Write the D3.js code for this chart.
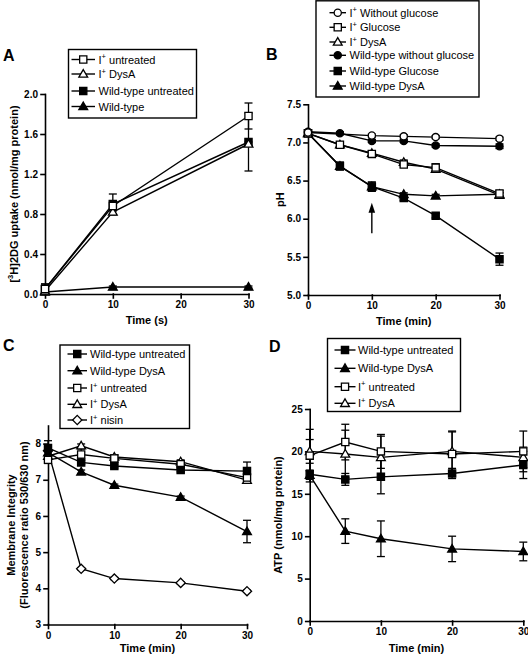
<!DOCTYPE html>
<html><head><meta charset="utf-8">
<script src="https://cdn.jsdelivr.net/npm/d3@7"></script>
<style>
body{margin:0;background:#fff;}
svg{display:block;font-family:"Liberation Sans",Arial,Helvetica,sans-serif;}
.axis .domain,.axis line{stroke:#000;stroke-width:1.6;stroke-linecap:square;}
.axis text{font-size:10px;font-weight:bold;fill:#000;font-family:"Liberation Sans",Arial,sans-serif;}
</style></head><body>
<svg id="chart" width="528" height="656"></svg>
<script>
// ---------------- Panel A data ----------------
const timeA = [0, 10, 30];
const aIpUntreated = [0.05, 0.88, 1.78];
const aIpUntreatedErr = [0.05, 0.05, 0.13];
const aIpDysA = [0.03, 0.82, 1.50];
const aIpDysAErr = [0.02, 0.03, 0.02];
const aWtUntreated = [0.05, 0.90, 1.52];
const aWtUntreatedErr = [0.05, 0.10, 0.29];
const aWt = [0.02, 0.07, 0.07];
const aWtErr = [0.01, 0.01, 0.01];
const ticksAx = [0, 10, 20, 30];
const ticksAy = [0.0, 0.4, 0.8, 1.2, 1.6, 2.0];

// ---------------- Panel B data ----------------
const timeB = [0, 10, 15, 20, 30];
const timeB6 = [0, 5, 10, 15, 20, 30];
const bIpNoGlucose = [7.13, 7.09, 7.08, 7.07, 7.05];
const bIpNoGlucoseErr = [0.02, 0.02, 0.02, 0.02, 0.02];
const bIpGlucose = [7.12, 6.97, 6.85, 6.71, 6.67, 6.33];
const bIpGlucoseErr = [0.02, 0.03, 0.03, 0.03, 0.05, 0.04];
const bIpDysA = [7.12, 6.97, 6.86, 6.74, 6.65, 6.31];
const bIpDysAErr = [0.02, 0.04, 0.03, 0.03, 0.03, 0.03];
const bWtNoGlucose = [7.14, 7.12, 7.02, 7.02, 6.96, 6.95];
const bWtNoGlucoseErr = [0.02, 0.02, 0.02, 0.02, 0.02, 0.03];
const bWtGlucose = [7.12, 6.69, 6.42, 6.27, 6.04, 5.47];
const bWtGlucoseErr = [0.02, 0.05, 0.06, 0.03, 0.03, 0.08];
const bWtDysA = [7.12, 6.69, 6.42, 6.32, 6.30, 6.32];
const bWtDysAErr = [0.02, 0.05, 0.06, 0.02, 0.02, 0.02];
const arrowB = [10, 5.81, 6.21]; // time, tail pH, tip pH
const ticksBx = [0, 10, 20, 30];
const ticksBy = [5.0, 5.5, 6.0, 6.5, 7.0, 7.5];

// ---------------- Panel C data ----------------
const timeC = [0, 5, 10, 20, 30];
const cWtUntreated = [7.88, 7.48, 7.38, 7.27, 7.24];
const cWtUntreatedErr = [0.2, 0.05, 0.05, 0.05, 0.25];
const cWtDysA = [7.75, 7.22, 6.85, 6.52, 5.57];
const cWtDysAErr = [0.1, 0.05, 0.03, 0.03, 0.31];
const cIpUntreated = [7.55, 7.70, 7.59, 7.43, 7.06];
const cIpUntreatedErr = [0.1, 0.15, 0.1, 0.05, 0.1];
const cIpDysA = [7.65, 7.94, 7.63, 7.50, 6.99];
const cIpDysAErr = [0.05, 0.05, 0.05, 0.05, 0.05];
const cIpNisin = [7.80, 4.54, 4.27, 4.15, 3.92];
const cIpNisinErr = [0.03, 0.03, 0.03, 0.03, 0.03];
const ticksCx = [0, 10, 20, 30];
const ticksCy = [3, 4, 5, 6, 7, 8];

// ---------------- Panel D data ----------------
const timeD = [0, 5, 10, 20, 30];
const dWtUntreated = [17.3, 16.7, 17.0, 17.4, 18.4];
const dWtUntreatedErr = [0.5, 0.7, 2.0, 0.6, 1.6];
const dWtDysA = [17.2, 10.6, 9.7, 8.5, 8.2];
const dWtDysAErr = [0.5, 1.45, 2.1, 1.5, 1.1];
const dIpUntreated = [19.5, 21.1, 20.0, 19.7, 20.0];
const dIpUntreatedErr = [3.1, 2.1, 2.0, 2.6, 2.4];
const dIpDysA = [20.0, 19.7, 19.3, 20.0, 19.3];
const dIpDysAErr = [1.4, 2.8, 2.5, 2.4, 1.2];
const ticksDx = [0, 10, 20, 30];
const ticksDy = [0, 5, 10, 15, 20, 25];

// ---------------- Build ----------------
const svg = d3.select('#chart');

const panels = [
  { letter:'A', lx:3, ly:60.5, xr:[45,248.5], yr:[294,94], yd:[0,2.0], xd:[0,30],
    xt:ticksAx, yt:ticksAy, yf:d3.format('.1f'),
    xTitle:'Time (s)', xTitleY:324, yTitle:[['[','3','H]2DG uptake (nmol/mg protein)']], yTitleX:[13.5],
    legend:{box:[68.5,49.5,196.5,118], rows:[59.5,74,91,106.5], s0:71.5, s1:95, tx:98.5},
    series:[
      {label:'I+ untreated', sym:'square', open:true, t:timeA, v:aIpUntreated, e:aIpUntreatedErr},
      {label:'I+ DysA', sym:'triangle', open:true, t:timeA, v:aIpDysA, e:aIpDysAErr},
      {label:'Wild-type untreated', sym:'square', open:false, t:timeA, v:aWtUntreated, e:aWtUntreatedErr},
      {label:'Wild-type', sym:'triangle', open:false, t:timeA, v:aWt, e:aWtErr}
    ]},
  { letter:'B', lx:266, ly:59.5, xr:[308,499.5], yr:[295,104.3], yd:[5.0,7.5], xd:[0,30],
    xt:ticksBx, yt:ticksBy, yf:d3.format('.1f'),
    xTitle:'Time (min)', xTitleY:324.5, yTitle:[['','','pH']], yTitleX:[280],
    legend:{box:[316,0.8,479,97], rows:[12.7,27.3,42,55.3,71,86], s0:329.5, s1:346, tx:349.5},
    series:[
      {label:'I+ Without glucose', sym:'circle', open:true, t:timeB, v:bIpNoGlucose, e:bIpNoGlucoseErr},
      {label:'I+ Glucose', sym:'square', open:true, t:timeB6, v:bIpGlucose, e:bIpGlucoseErr},
      {label:'I+ DysA', sym:'triangle', open:true, t:timeB6, v:bIpDysA, e:bIpDysAErr},
      {label:'Wild-type without glucose', sym:'circle', open:false, t:timeB6, v:bWtNoGlucose, e:bWtNoGlucoseErr},
      {label:'Wild-type Glucose', sym:'square', open:false, t:timeB6, v:bWtGlucose, e:bWtGlucoseErr},
      {label:'Wild-type DysA', sym:'triangle', open:false, t:timeB6, v:bWtDysA, e:bWtDysAErr}
    ]},
  { letter:'C', lx:3, ly:351, xr:[48,247], yr:[624.5,425.5], yd:[3,8.5], xd:[0,30],
    xt:ticksCx, yt:ticksCy, yf:d3.format('d'),
    xTitle:'Time (min)', xTitleY:652, yTitle:[['','','Membrane Integrity'],['','','(Fluorescence ratio 530/630 nm)']], yTitleX:[10.5,23.5],
    legend:{box:[60,345,189.5,428.5], rows:[354,370.7,388,404.3,420], s0:67.5, s1:87, tx:90},
    series:[
      {label:'Wild-type untreated', sym:'square', open:false, t:timeC, v:cWtUntreated, e:cWtUntreatedErr},
      {label:'Wild-type DysA', sym:'triangle', open:false, t:timeC, v:cWtDysA, e:cWtDysAErr},
      {label:'I+ untreated', sym:'square', open:true, t:timeC, v:cIpUntreated, e:cIpUntreatedErr},
      {label:'I+ DysA', sym:'triangle', open:true, t:timeC, v:cIpDysA, e:cIpDysAErr},
      {label:'I+ nisin', sym:'diamond', open:true, t:timeC, v:cIpNisin, e:cIpNisinErr}
    ]},
  { letter:'D', lx:269, ly:351.5, xr:[309.7,523.3], yr:[621,409], yd:[0,25], xd:[0,30],
    xt:ticksDx, yt:ticksDy, yf:d3.format('d'),
    xTitle:'Time (min)', xTitleY:652, yTitle:[['','','ATP (nmol/mg protein)']], yTitleX:[277.5],
    legend:{box:[327.5,338.5,460.5,411.5], rows:[350,368.3,386.7,403.3], s0:334.5, s1:355.5, tx:358},
    series:[
      {label:'Wild-type untreated', sym:'square', open:false, t:timeD, v:dWtUntreated, e:dWtUntreatedErr},
      {label:'Wild-type DysA', sym:'triangle', open:false, t:timeD, v:dWtDysA, e:dWtDysAErr},
      {label:'I+ untreated', sym:'square', open:true, t:timeD, v:dIpUntreated, e:dIpUntreatedErr},
      {label:'I+ DysA', sym:'triangle', open:true, t:timeD, v:dIpDysA, e:dIpDysAErr}
    ]}
];

function drawMarker(g, sym, open, cx, cy) {
  const fill = open ? '#fff' : '#000';
  let el;
  if (sym === 'circle') {
    el = g.append('circle').attr('cx', cx).attr('cy', cy).attr('r', 3.6);
  } else {
    let p;
    if (sym === 'square') p = 'M-3.6,-3.6h7.2v7.2h-7.2z';
    else if (sym === 'triangle') p = 'M0,-4.4L4.4,3.2L-4.4,3.2Z';
    else p = 'M0,-4.6L4.6,0L0,4.6L-4.6,0Z';
    el = g.append('path').attr('d', p).attr('transform', `translate(${cx},${cy})`);
  }
  el.attr('fill', fill).attr('stroke', '#000').attr('stroke-width', 1.3);
}

function labelText(g, x, y, label) {
  const t = g.append('text').attr('x', x).attr('y', y).attr('font-size', 11).attr('fill', '#000');
  if (label.startsWith('I+')) {
    t.append('tspan').text('I');
    t.append('tspan').attr('font-size', 7.5).attr('dy', -4.5).text('+');
    t.append('tspan').attr('dy', 4.5).text(label.slice(2));
  } else {
    t.text(label);
  }
}

panels.forEach(p => {
  const g = svg.append('g');
  const x = d3.scaleLinear().domain(p.xd).range(p.xr);
  const y = d3.scaleLinear().domain(p.yd).range(p.yr);

  // axes
  g.append('g').attr('class', 'axis').attr('transform', `translate(0,${p.yr[0]})`)
    .call(d3.axisBottom(x).tickValues(p.xt).tickFormat(d3.format('d')).tickSize(4).tickSizeOuter(0).tickPadding(3));
  g.append('g').attr('class', 'axis').attr('transform', `translate(${p.xr[0]},0)`)
    .call(d3.axisLeft(y).tickValues(p.yt).tickFormat(p.yf).tickSize(4).tickSizeOuter(0).tickPadding(3));

  // panel letter
  g.append('text').attr('x', p.lx).attr('y', p.ly).attr('font-size', 16).attr('font-weight', 'bold').text(p.letter);

  // x title
  g.append('text').attr('x', (p.xr[0] + p.xr[1]) / 2).attr('y', p.xTitleY).attr('text-anchor', 'middle')
    .attr('font-size', 11).attr('font-weight', 'bold').text(p.xTitle);

  // y title
  const cy = (p.yr[0] + p.yr[1]) / 2;
  p.yTitle.forEach((parts, i) => {
    const tx = p.yTitleX[i];
    const t = g.append('text').attr('transform', `translate(${tx},${cy}) rotate(-90)`)
      .attr('text-anchor', 'middle').attr('dominant-baseline', 'central')
      .attr('font-size', 11).attr('font-weight', 'bold');
    if (parts[1]) {
      t.append('tspan').text(parts[0]);
      t.append('tspan').attr('font-size', 7.5).attr('dy', -4).text(parts[1]);
      t.append('tspan').attr('dy', 4).text(parts[2]);
    } else {
      t.text(parts[2]);
    }
  });

  const line = d3.line().x(d => x(d[0])).y(d => y(d[1]));

  // lines
  p.series.forEach(s => {
    const pts = s.t.map((t, i) => [t, s.v[i]]);
    g.append('path').attr('d', line(pts)).attr('fill', 'none').attr('stroke', '#000').attr('stroke-width', 1.4);
  });
  // error bars
  p.series.forEach(s => {
    s.t.forEach((t, i) => {
      const cx = x(t), yt = y(s.v[i] + s.e[i]), yb = y(s.v[i] - s.e[i]);
      const eg = g.append('g').attr('stroke', '#000').attr('stroke-width', 1.3);
      eg.append('line').attr('x1', cx).attr('x2', cx).attr('y1', yt).attr('y2', yb);
      eg.append('line').attr('x1', cx - 4).attr('x2', cx + 4).attr('y1', yt).attr('y2', yt);
      eg.append('line').attr('x1', cx - 4).attr('x2', cx + 4).attr('y1', yb).attr('y2', yb);
    });
  });
  // markers
  p.series.slice().reverse().forEach(s => {
    s.t.forEach((t, i) => drawMarker(g, s.sym, s.open, x(t), y(s.v[i])));
  });

  // arrow in B
  if (p.letter === 'B') {
    const ax = x(arrowB[0]), y1 = y(arrowB[1]), y2 = y(arrowB[2]);
    g.append('line').attr('x1', ax).attr('x2', ax).attr('y1', y1).attr('y2', y2 + 8)
      .attr('stroke', '#000').attr('stroke-width', 1.4);
    g.append('path').attr('d', `M${ax},${y2}L${ax + 3.3},${y2 + 10}L${ax - 3.3},${y2 + 10}Z`).attr('fill', '#000');
  }

  // legend
  const L = p.legend;
  const lg = g.append('g');
  lg.append('rect').attr('x', L.box[0]).attr('y', L.box[1]).attr('width', L.box[2] - L.box[0]).attr('height', L.box[3] - L.box[1])
    .attr('fill', '#fff').attr('stroke', '#000').attr('stroke-width', 1.4);
  p.series.forEach((s, i) => {
    const ry = L.rows[i];
    lg.append('line').attr('x1', L.s0).attr('x2', L.s1).attr('y1', ry).attr('y2', ry).attr('stroke', '#000').attr('stroke-width', 1.4);
    drawMarker(lg, s.sym, s.open, (L.s0 + L.s1) / 2, ry);
    labelText(lg, L.tx, ry + 4, s.label);
  });
});
</script>
</body></html>
